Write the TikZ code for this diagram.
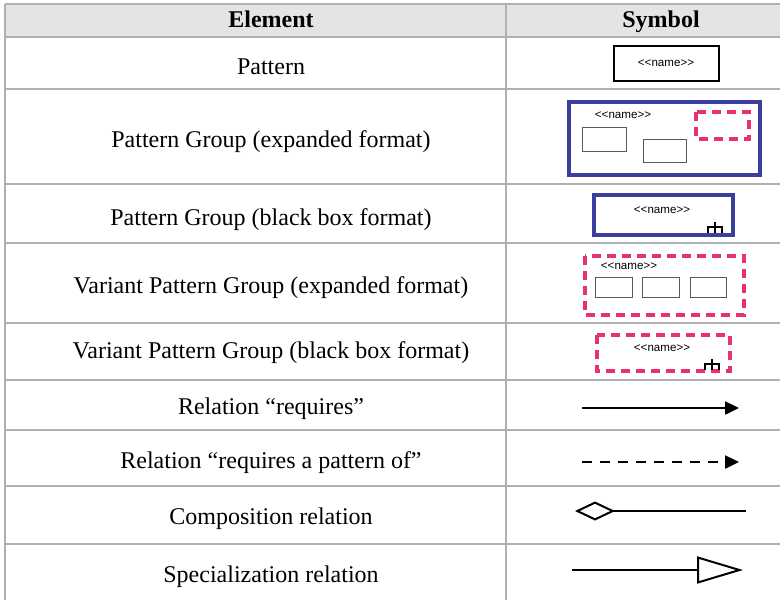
\documentclass[tikz,border=0pt]{standalone}
\usepackage{fontspec}
\setmainfont{Liberation Serif}
\newfontfamily\stereofont{Liberation Sans}
\usetikzlibrary{arrows.meta}
\definecolor{rulegray}{RGB}{176,176,176}
\definecolor{headgray}{RGB}{228,228,228}
\definecolor{groupblue}{RGB}{58,63,158}
\definecolor{variantpink}{RGB}{232,51,106}
\def\rake(#1,#2){\draw[line width=1.1pt] (#1,#2-5) -- (#1,#2+6) (#1-7,#2+6) -- (#1-7,#2) -- (#1+7,#2) -- (#1+7,#2+6);}

\begin{document}
\begin{tikzpicture}[x=0.5pt, y=-0.5pt,
	cell/.style={anchor=base, inner sep=0pt, font=\fontsize{12}{14}\selectfont},
	stereo/.style={inner sep=0pt, font=\stereofont\fontsize{5.8}{7}\selectfont},
	groupbox/.style={draw=groupblue, line width=2pt},
	variantbox/.style={draw=variantpink, line width=2pt, dash pattern=on 4.5pt off 3pt},
	innerbox/.style={draw=black!65, line width=0.5pt}]
			%%%%% TABLE %%%%%
			\useasboundingbox (0, 0) rectangle (780, 600);
			\fill[headgray] (5, 4) rectangle (780, 37);
			\draw[rulegray, line width=0.75pt] (5, 4) -- (780, 4);
			\draw[rulegray, line width=0.75pt] (5, 37) -- (780, 37);
			\draw[rulegray, line width=0.75pt] (5, 89) -- (780, 89);
			\draw[rulegray, line width=0.75pt] (5, 184) -- (780, 184);
			\draw[rulegray, line width=0.75pt] (5, 243) -- (780, 243);
			\draw[rulegray, line width=0.75pt] (5, 323) -- (780, 323);
			\draw[rulegray, line width=0.75pt] (5, 380) -- (780, 380);
			\draw[rulegray, line width=0.75pt] (5, 430) -- (780, 430);
			\draw[rulegray, line width=0.75pt] (5, 486) -- (780, 486);
			\draw[rulegray, line width=0.75pt] (5, 544) -- (780, 544);
			\draw[rulegray, line width=0.75pt] (5, 4) -- (5, 600);
			\draw[rulegray, line width=0.75pt] (506, 4) -- (506, 600);
			
			%%%%% ELEMENT COLUMN %%%%%
			\node[cell] (head-element) at (271, 27) {\bfseries Element};
			\node[cell] (el-pattern) at (271, 74) {Pattern};
			\node[cell] (el-group-exp) at (271, 147) {Pattern Group (expanded format)};
			\node[cell] (el-group-bb) at (271, 225) {Pattern Group (black box format)};
			\node[cell] (el-variant-exp) at (271, 293) {Variant Pattern Group (expanded format)};
			\node[cell] (el-variant-bb) at (271, 358) {Variant Pattern Group (black box format)};
			\node[cell] (el-requires) at (271, 414) {Relation “requires”};
			\node[cell] (el-requires-of) at (271, 468) {Relation “requires a pattern of”};
			\node[cell] (el-composition) at (271, 524) {Composition relation};
			\node[cell] (el-specialization) at (271, 582) {Specialization relation};
			
			%%%%% SYMBOL COLUMN %%%%%
			\node[cell] (head-symbol) at (661, 27) {\bfseries Symbol};
			
			% pattern
			\draw[line width=1.1pt] (614, 46) rectangle (719, 81);
			\node[stereo] (sym-pattern) at (666, 63) {<{}<name>{}>};
			
			% pattern group, expanded
			\draw[groupbox] (569, 102) rectangle (760, 175);
			\node[stereo] (sym-group-exp) at (623, 115) {<{}<name>{}>};
			\draw[innerbox] (582, 127) rectangle (626, 151);
			\draw[innerbox] (643, 139) rectangle (686, 162);
			\draw[variantbox] (696, 112) rectangle (749, 139);
			
			% pattern group, black box
			\draw[groupbox] (594, 195) rectangle (733, 235);
			\node[stereo] (sym-group-bb) at (662, 210) {<{}<name>{}>};
			\rake(715,227)
			
			% variant pattern group, expanded
			\draw[variantbox] (585, 256) rectangle (744, 315);
			\node[stereo] (sym-variant-exp) at (629, 266) {<{}<name>{}>};
			\draw[innerbox] (595, 277) rectangle (632, 297);
			\draw[innerbox] (642, 277) rectangle (679, 297);
			\draw[innerbox] (690, 277) rectangle (726, 297);
			
			% variant pattern group, black box
			\draw[variantbox] (597, 335) rectangle (730, 371);
			\node[stereo] (sym-variant-bb) at (662, 348) {<{}<name>{}>};
			\rake(712,364)
			
			% relations
			\coordinate (req-from) at (582, 408);
			\coordinate (req-to) at (739, 408);
			\draw[line width=1.2pt, -{Triangle[length=7pt, width=6.5pt]}] (req-from) -- (req-to);
			
			\coordinate (reqof-from) at (582, 462);
			\coordinate (reqof-to) at (739, 462);
			\draw[line width=1.2pt, dash pattern=on 5pt off 4pt, -{Triangle[length=7pt, width=6.5pt]}] (reqof-from) -- (reqof-to);
			
			\coordinate (comp-from) at (575, 511);
			\coordinate (comp-to) at (746, 511);
			\draw[line width=0.9pt, {Diamond[open, fill=white, length=20pt, width=9.5pt, line width=1pt]}-] (comp-from) -- (comp-to);
			
			\coordinate (spec-from) at (572, 570);
			\coordinate (spec-to) at (743, 570);
			\draw[line width=1.2pt, -{Triangle[open, fill=white, length=23pt, width=13.5pt, line width=1pt]}] (spec-from) -- (spec-to);
\end{tikzpicture}
\end{document}
